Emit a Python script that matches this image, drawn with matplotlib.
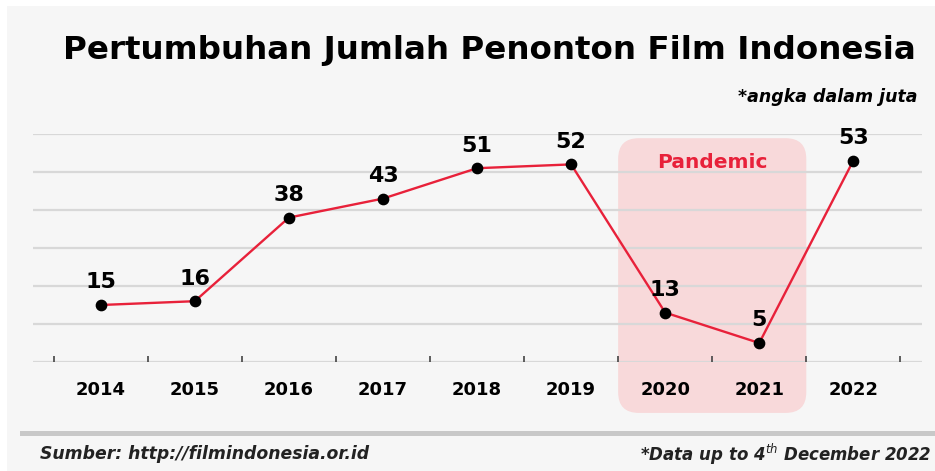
import matplotlib.pyplot as plt
from matplotlib.patches import FancyBboxPatch, Rectangle
from matplotlib.lines import Line2D

# data (juta penonton)
years = [2014, 2015, 2016, 2017, 2018, 2019, 2020, 2021, 2022]
penonton = [15, 16, 38, 43, 51, 52, 13, 5, 53]
pandemic_years = [2020, 2021]

title = "Pertumbuhan Jumlah Penonton Film Indonesia"
note = "*angka dalam juta"
source = "Sumber: http://filmindonesia.or.id"
data_note = "*Data up to 4$^{th}$ December 2022"

RED = "#e8213a"
BG = "#f6f6f6"

plt.rcParams['font.family'] = ['DejaVu Sans']

fig = plt.figure(figsize=(9.35, 4.71), dpi=100, facecolor="white")
fig.patches.append(Rectangle((7 / 935, 0), 1, 1 - 6 / 471, transform=fig.transFigure,
                             facecolor=BG, edgecolor="none", zorder=-10))

ax = fig.add_axes([33 / 935, 1 - 362 / 471, 889 / 935, 228 / 471])
ax.set_facecolor("none")
ax.set_xlim(years[0] - 0.72, years[-1] + 0.73)
ax.set_ylim(0, 60)
for s in ax.spines.values():
    s.set_visible(False)

# grid lines
for g in range(0, 61, 10):
    ax.axhline(g, color="#d8d8d8", lw=1.6, zorder=1)

# pandemic box (rounded in pixels)
x0 = pandemic_years[0] - 0.5
w = pandemic_years[-1] - pandemic_years[0] + 1
box = FancyBboxPatch((x0, -13.4), w, 72.3,
                     boxstyle="round,pad=0,rounding_size=0.22",
                     mutation_aspect=94 / 3.8,
                     facecolor="#f8d9da", edgecolor="none",
                     zorder=0, clip_on=False)
ax.add_patch(box)
ax.text(sum(pandemic_years) / 2, 52.4, "Pandemic", color=RED, fontsize=14.5,
        fontweight="bold", ha="center", va="center", zorder=2)

# line + points
ax.plot(years, penonton, color=RED, lw=1.7, zorder=3)
ax.scatter(years, penonton, s=55, color="black", zorder=4)
for x, v in zip(years, penonton):
    ax.annotate(str(v), (x, v), xytext=(0, 9), textcoords="offset points",
                ha="center", va="bottom", fontsize=16, fontweight="bold", zorder=5)

# ticks
ax.set_yticks([])
ax.set_xticks(years)
ax.set_xticklabels([str(y) for y in years], fontsize=13, fontweight="bold")
ax.tick_params(axis="x", which="major", length=0, pad=14)
ax.set_xticks([y - 0.5 for y in years] + [years[-1] + 0.5], minor=True)
ax.tick_params(axis="x", which="minor", direction="in", length=4, width=1.2,
               color="#444444")

# titles
fig.text(63 / 935, 1 - 50 / 471, title, fontsize=23.4, fontweight="bold",
         ha="left", va="center")
fig.text(918 / 935, 1 - 97 / 471, note, fontsize=12.5, fontweight="bold",
         style="italic", ha="right", va="center")

# footer
fig.lines.append(Line2D([22 / 935, 1], [1 - 433 / 471, 1 - 433 / 471],
                        transform=fig.transFigure, color="#c8c8c8", lw=3.6))
fig.text(40 / 935, 1 - 454 / 471, source, fontsize=12.4, fontweight="bold",
         style="italic", ha="left", va="center", color="#222222")
fig.text(931 / 935, 1 - 454 / 471, data_note, fontsize=12, fontweight="bold",
         style="italic", ha="right", va="center", color="#222222")

fig.savefig("out.png", dpi=100, facecolor=fig.get_facecolor())
